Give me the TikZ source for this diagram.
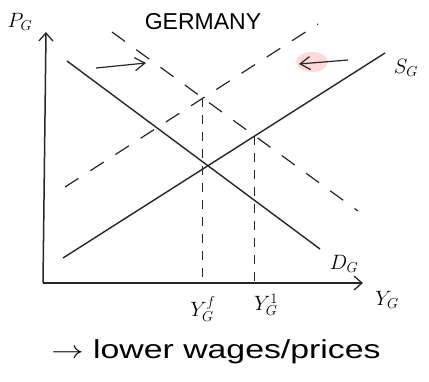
\documentclass[tikz,border=0pt]{standalone}
\usepackage{fontspec}
\setmainfont{Liberation Sans}
\usetikzlibrary{arrows.meta,intersections}
\begin{document}
\begin{tikzpicture}[x=1pt,y=-1pt,
  curve/.style={line width=1.4pt,black!85},
  shifted/.style={line width=1.2pt,black!85,dash pattern=on 16pt off 14pt},
  guide/.style={line width=1.1pt,black!85,dash pattern=on 9pt off 8pt},
  axis/.style={line width=1.5pt,black!85,-{Straight Barb[length=8pt,width=14pt,line width=1.3pt]}},
  shiftarrow/.style={line width=1.2pt,black!85,-{Straight Barb[length=10pt,width=13pt,line width=1.2pt]}},
  lbl/.style={inner sep=1pt,font=\fontsize{20}{22}\selectfont},
  small/.style={inner sep=0pt,font=\fontsize{20}{22}\selectfont},
  txt/.style={inner sep=1pt,font=\fontsize{23}{26}\selectfont}]
\useasboundingbox (0,0) rectangle (429,381);
% highlight
\fill[red!18,opacity=0.8] (312,62) ellipse (16pt and 10pt);
% axes
\coordinate (O) at (43,283);
\coordinate (ytop) at (46,32);
\coordinate (xend) at (363,283);
\draw[axis] (O) -- (ytop);
\draw[axis] (O) -- (xend);
% curves
\coordinate (s1) at (63,258); \coordinate (s2) at (385,53);
\coordinate (d1) at (67,61); \coordinate (d2) at (320,249);
\coordinate (ss1) at (65,187); \coordinate (ss2) at (318,24);
\coordinate (dd1) at (112,32); \coordinate (dd2) at (358,211);
\draw[curve,name path=S] (s1) -- (s2);
\draw[curve,name path=D] (d1) -- (d2);
\draw[shifted,name path=SS] (ss1) -- (ss2);
\draw[shifted,name path=DD] (dd1) -- (dd2);
\path[name intersections={of=SS and DD,by=ef}];
\path[name intersections={of=S and DD,by=e1}];
\coordinate (bf) at (ef |- O);
\coordinate (b1) at (e1 |- O);
\draw[guide] (ef) -- (bf);
\draw[guide] (e1) -- (b1);
% shift arrows
\coordinate (ar1) at (96,68); \coordinate (ar2) at (146,63);
\coordinate (al1) at (348,60); \coordinate (al2) at (299,64);
\draw[shiftarrow] (ar1) -- (ar2);
\draw[shiftarrow] (al1) -- (al2);
% labels
\node[lbl] (PG) at (20,22) {$P_G$};
\node[txt] (title) at (203,22) {GERMANY};
\node[lbl] (SG) at (406,68) {$S_G$};
\node[lbl] (DG) at (344,264) {$D_G$};
\node[lbl] (YG) at (387,300) {$Y_G$};
\node[small] (YGf) at (203,309) {$Y_G^f$};
\node[small] (YG1) at (266,305) {$Y_G^1$};
\node[txt,xscale=1.3] (note) at (216,352) {\fontsize{26}{28}\selectfont$\rightarrow$ lower wages/prices};
\end{tikzpicture}
\end{document}
